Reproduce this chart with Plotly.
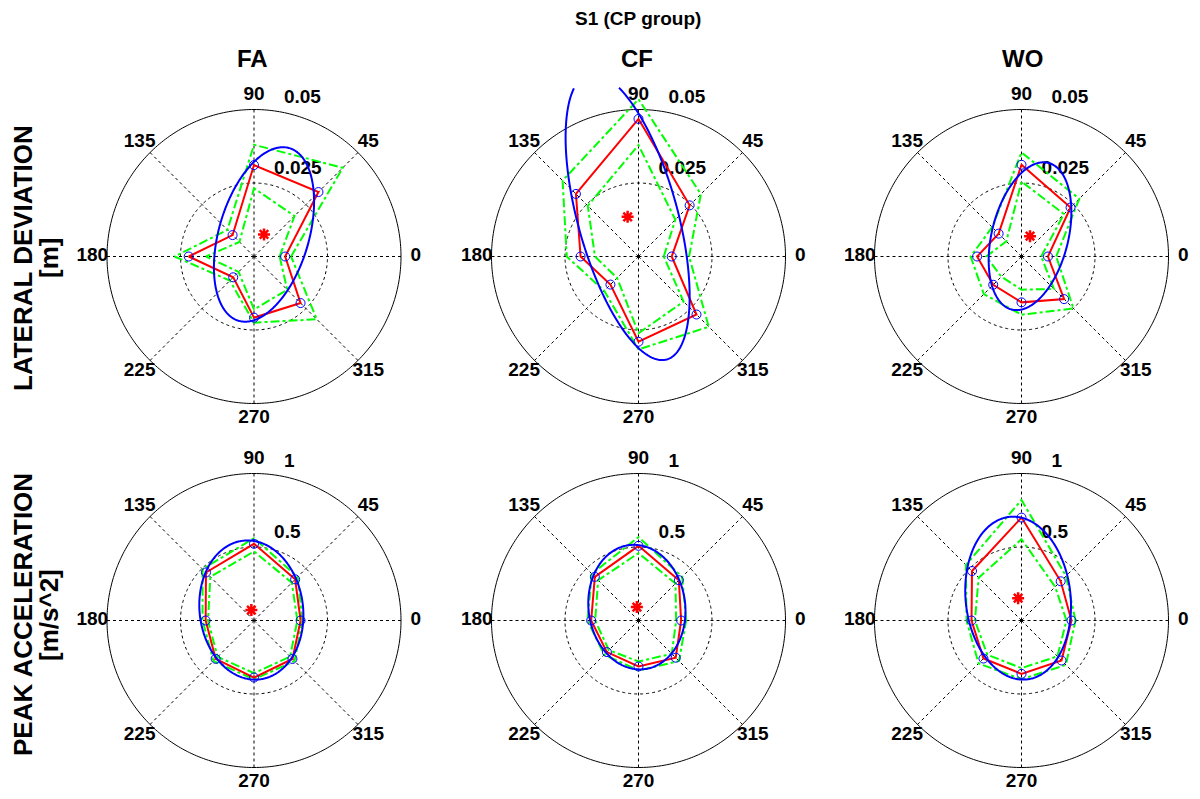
import numpy as np
import plotly.graph_objects as go

W, H = 1200, 799
PAGE_OFFSET = 8  # the html body margin shifts the figure by 8 px

# ---------------- data ----------------
directions = [0, 45, 90, 135, 180, 225, 270, 315]
angle_labels = ["0", "45", "90", "135", "180", "225", "270", "315"]

fig_title = "S1 (CP group)"
col_titles = ["FA", "CF", "WO"]
row_titles = [["LATERAL DEVIATION", "[m]"], ["PEAK ACCELERATION", "[m/s^2]"]]

lat_rticks = [0.025, 0.05]
lat_rtick_labels = ["0.025", "0.05"]
acc_rticks = [0.5, 1.0]
acc_rtick_labels = ["0.5", "1"]

# lateral deviation [m] : mean, mean+sd, mean-sd at each direction
fa_lat_mean = [0.0106, 0.0310, 0.0311, 0.0103, 0.0222, 0.0100, 0.0208, 0.0224]
fa_lat_upper = [0.0126, 0.0427, 0.0380, 0.0128, 0.0270, 0.0116, 0.0225, 0.0302]
fa_lat_lower = [0.0087, 0.0195, 0.0232, 0.0070, 0.0163, 0.0074, 0.0180, 0.0160]

cf_lat_mean = [0.0113, 0.0246, 0.0468, 0.0301, 0.0197, 0.0135, 0.0290, 0.0279]
cf_lat_upper = [0.0172, 0.0300, 0.0535, 0.0365, 0.0244, 0.0165, 0.0316, 0.0338]
cf_lat_lower = [0.0086, 0.0177, 0.0379, 0.0244, 0.0148, 0.0103, 0.0261, 0.0217]

wo_lat_mean = [0.0090, 0.0236, 0.0312, 0.0110, 0.0151, 0.0136, 0.0156, 0.0205]
wo_lat_upper = [0.0118, 0.0278, 0.0354, 0.0141, 0.0173, 0.0181, 0.0198, 0.0250]
wo_lat_lower = [0.0067, 0.0204, 0.0255, 0.0073, 0.0120, 0.0097, 0.0113, 0.0156]

# peak acceleration [m/s^2]
fa_acc_mean = [0.317, 0.396, 0.522, 0.462, 0.329, 0.369, 0.388, 0.370]
fa_acc_upper = [0.330, 0.420, 0.560, 0.495, 0.350, 0.390, 0.400, 0.390]
fa_acc_lower = [0.295, 0.364, 0.470, 0.420, 0.313, 0.350, 0.358, 0.347]

cf_acc_mean = [0.290, 0.388, 0.508, 0.420, 0.322, 0.304, 0.313, 0.358]
cf_acc_upper = [0.324, 0.420, 0.567, 0.449, 0.347, 0.330, 0.340, 0.390]
cf_acc_lower = [0.256, 0.356, 0.458, 0.388, 0.295, 0.285, 0.279, 0.320]

wo_acc_mean = [0.340, 0.377, 0.700, 0.476, 0.340, 0.366, 0.363, 0.385]
wo_acc_upper = [0.367, 0.428, 0.820, 0.535, 0.374, 0.413, 0.400, 0.427]
wo_acc_lower = [0.306, 0.324, 0.553, 0.412, 0.317, 0.329, 0.324, 0.345]

# fitted ellipses: centre x, centre y, semi-major, semi-minor, orientation [deg]
fa_lat_ellipse = [0.0034, 0.0075, 0.0306, 0.0153, 73.6]
cf_lat_ellipse = [-0.0037, 0.0135, 0.0503, 0.0170, 105.3]
wo_lat_ellipse = [0.0029, 0.0069, 0.0257, 0.0130, 76.0]
fa_acc_ellipse = [-0.018, 0.071, 0.475, 0.352, 97.0]
cf_acc_ellipse = [-0.011, 0.091, 0.425, 0.329, 97.0]
wo_acc_ellipse = [-0.023, 0.152, 0.556, 0.357, 96.0]

panels = [
    (0, 0, fa_lat_mean, fa_lat_upper, fa_lat_lower, fa_lat_ellipse, lat_rticks, lat_rtick_labels),
    (0, 1, cf_lat_mean, cf_lat_upper, cf_lat_lower, cf_lat_ellipse, lat_rticks, lat_rtick_labels),
    (0, 2, wo_lat_mean, wo_lat_upper, wo_lat_lower, wo_lat_ellipse, lat_rticks, lat_rtick_labels),
    (1, 0, fa_acc_mean, fa_acc_upper, fa_acc_lower, fa_acc_ellipse, acc_rticks, acc_rtick_labels),
    (1, 1, cf_acc_mean, cf_acc_upper, cf_acc_lower, cf_acc_ellipse, acc_rticks, acc_rtick_labels),
    (1, 2, wo_acc_mean, wo_acc_upper, wo_acc_lower, wo_acc_ellipse, acc_rticks, acc_rtick_labels),
]

# ---------------- layout geometry (screen pixels) ----------------
center_x_px = [254.0, 638.5, 1021.5]
center_y_px = [256.5, 620.5]
R_PX = 147.0

FONT = "Liberation Sans, Arial, Helvetica, sans-serif"
RED = "#ff0000"
BLUE = "#0000ff"
GREEN = "#00ff00"


def px_x(x):
    return (x - PAGE_OFFSET) / W


def px_y(y):
    return 1 - (y - PAGE_OFFSET) / H


fig = go.Figure()
layout_polars = {}


def closed(v):
    v = list(v)
    return v + v[:1]


for k, (row, col, mean, upper, lower, ell, rticks, rtick_labels) in enumerate(panels):
    name = "polar" if k == 0 else f"polar{k + 1}"
    rmax = rticks[-1]
    f = 1.25 if (row == 0 and col == 1) else 1.15
    cx, cy = center_x_px[col], center_y_px[row]
    half = f * R_PX
    layout_polars[name] = dict(
        domain=dict(x=[px_x(cx - half), px_x(cx + half)],
                    y=[px_y(cy + half), px_y(cy - half)]),
        bgcolor="rgba(0,0,0,0)",
        radialaxis=dict(visible=False, range=[0, f * rmax]),
        angularaxis=dict(visible=False, rotation=0, direction="counterclockwise"),
    )
    sp = name

    # grid: outer solid circle, dotted inner circle, dotted spokes
    circ = list(np.linspace(0, 360, 361))
    fig.add_trace(go.Scatterpolar(r=[rmax] * len(circ), theta=circ, mode="lines",
                                  line=dict(color="black", width=1), subplot=sp,
                                  hoverinfo="skip", showlegend=False))
    fig.add_trace(go.Scatterpolar(r=[rticks[0]] * len(circ), theta=circ, mode="lines",
                                  line=dict(color="black", width=1, dash="3px,3px"),
                                  subplot=sp, hoverinfo="skip", showlegend=False))
    sr, st = [], []
    for a in directions:
        sr += [0, rmax, None]
        st += [a, a, None]
    fig.add_trace(go.Scatterpolar(r=sr, theta=st, mode="lines",
                                  line=dict(color="black", width=1, dash="3px,3px"),
                                  subplot=sp, hoverinfo="skip", showlegend=False))

    # angle labels
    fig.add_trace(go.Scatterpolar(r=[1.1 * rmax] * len(directions), theta=directions,
                                  mode="text", text=angle_labels,
                                  textposition="middle center",
                                  textfont=dict(family=FONT, size=19, color="black", weight="bold"),
                                  cliponaxis=False, subplot=sp, hoverinfo="skip",
                                  showlegend=False))
    # radial tick labels
    fig.add_trace(go.Scatterpolar(r=[0.607 * rmax, 1.097 * rmax], theta=[77.0, 79.3],
                                  mode="text", text=rtick_labels,
                                  textposition="middle right",
                                  textfont=dict(family=FONT, size=19, color="black", weight="bold"),
                                  cliponaxis=False, subplot=sp, hoverinfo="skip",
                                  showlegend=False))

    # mean +/- sd (green dash-dot)
    for band in (upper, lower):
        fig.add_trace(go.Scatterpolar(r=closed(band), theta=closed(directions), mode="lines",
                                      line=dict(color=GREEN, width=2, dash="dashdot"),
                                      subplot=sp, hoverinfo="skip", showlegend=False))
    # mean (red line, blue circles)
    fig.add_trace(go.Scatterpolar(r=closed(mean), theta=closed(directions), mode="lines",
                                  line=dict(color=RED, width=2),
                                  subplot=sp, hoverinfo="skip", showlegend=False))
    fig.add_trace(go.Scatterpolar(r=mean, theta=directions, mode="markers",
                                  marker=dict(symbol="circle-open", size=9, color=BLUE,
                                              line=dict(width=1, color=BLUE)),
                                  subplot=sp, hoverinfo="skip", showlegend=False))

    # fitted ellipse, clipped at the axes limits (+/-1.15 rmax vertically)
    ecx, ecy, ea, eb, eth = ell
    t = np.linspace(0, 2 * np.pi, 361)
    th = np.radians(eth)
    ex = ecx + ea * np.cos(t) * np.cos(th) - eb * np.sin(t) * np.sin(th)
    ey = ecy + ea * np.cos(t) * np.sin(th) + eb * np.sin(t) * np.cos(th)
    er = np.hypot(ex, ey)
    et = np.degrees(np.arctan2(ey, ex))
    inside = np.abs(ey) <= 1.15 * rmax
    er_l = [float(v) if ok else None for v, ok in zip(er, inside)]
    et_l = [float(v) if ok else None for v, ok in zip(et, inside)]
    fig.add_trace(go.Scatterpolar(r=er_l, theta=et_l, mode="lines",
                                  line=dict(color=BLUE, width=2),
                                  connectgaps=False, subplot=sp, hoverinfo="skip",
                                  showlegend=False))
    # ellipse centre (red star)
    fig.add_trace(go.Scatterpolar(r=[float(np.hypot(ecx, ecy))],
                                  theta=[float(np.degrees(np.arctan2(ecy, ecx)))],
                                  mode="markers",
                                  marker=dict(symbol="asterisk-open", size=10, color=RED,
                                              line=dict(width=2.5, color=RED)),
                                  subplot=sp, hoverinfo="skip", showlegend=False))

annotations = []
annotations.append(dict(text=fig_title, x=px_x(638), y=px_y(18), xref="paper", yref="paper",
                        showarrow=False, xanchor="center", yanchor="middle",
                        font=dict(family=FONT, size=19, color="black", weight="bold")))
title_x_px = [252, 637, 1022]
for col, t in enumerate(col_titles):
    annotations.append(dict(text=t, x=px_x(title_x_px[col]), y=px_y(59),
                            xref="paper", yref="paper", showarrow=False,
                            xanchor="center", yanchor="middle",
                            font=dict(family=FONT, size=24, color="black", weight="bold")))
row_label_x = [23, 49]
row_label_y = [258, 615]
for row, lines in enumerate(row_titles):
    for i, line in enumerate(lines):
        annotations.append(dict(text=line, x=px_x(row_label_x[i]), y=px_y(row_label_y[row]),
                                xref="paper", yref="paper", showarrow=False, textangle=-90,
                                xanchor="center", yanchor="middle", borderpad=0,
                                font=dict(family=FONT, size=26, color="black", weight="bold")))

fig.update_layout(
    width=W, height=H,
    margin=dict(l=0, r=0, t=0, b=0),
    paper_bgcolor="white",
    plot_bgcolor="white",
    showlegend=False,
    annotations=annotations,
    **layout_polars,
)

fig.write_html("out.html")
